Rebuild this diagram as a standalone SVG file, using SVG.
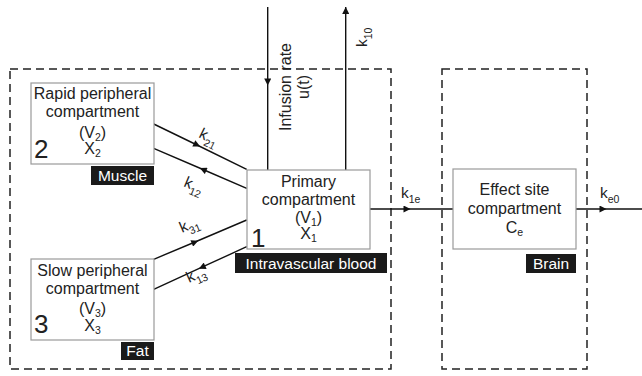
<svg xmlns="http://www.w3.org/2000/svg" width="642" height="376" viewBox="0 0 642 376">
<defs>
<marker id="ah" viewBox="0 0 10 10" refX="10" refY="5" markerWidth="8" markerHeight="7" markerUnits="userSpaceOnUse" orient="auto">
<path d="M0,0 L10,5 L0,10 z" fill="#111"/>
</marker>
<marker id="am" viewBox="0 0 10 10" refX="5" refY="5" markerWidth="8" markerHeight="7" markerUnits="userSpaceOnUse" orient="auto">
<path d="M0,0 L10,5 L0,10 z" fill="#111"/>
</marker>
</defs>
<style>
text{font-family:"Liberation Sans",Arial,sans-serif;fill:#222;}
.t{font-size:16px;text-anchor:middle;}
.big{font-size:26px;}
.lab{font-size:15.5px;text-anchor:middle;fill:#fff;}
.k{font-size:15.5px;}
.sub{font-size:10.5px;}
.box{fill:#fff;stroke:#9a9a9a;stroke-width:1.2;}
.blk{fill:#1a1a1a;}
.dash{fill:none;stroke:#222;stroke-width:1.5;stroke-dasharray:8 5;}
.ln{fill:none;stroke:#111;stroke-width:1.4;}
</style>
<rect width="642" height="376" fill="#fff"/>
<g id="regions">
<rect class="dash" x="10" y="69" width="381" height="300"/>
<rect class="dash" x="442" y="69" width="145" height="300"/>
</g>
<g id="connectors">
<path class="ln" d="M153.7,124 L197,145 L246.7,169.3" marker-mid="url(#am)"/>
<path class="ln" d="M246.7,188.3 L203,169.5 L153.7,148.3" marker-mid="url(#am)"/>
<path class="ln" d="M153.7,259.3 L195,242 L246.7,220" marker-mid="url(#am)"/>
<path class="ln" d="M246.7,246.7 L202,267.2 L153.7,289.3" marker-mid="url(#am)"/>
<path class="ln" d="M267.7,7 L267.7,82 L267.7,170" marker-mid="url(#am)"/>
<path class="ln" d="M345.7,170 L345.7,7" marker-end="url(#ah)"/>
<path class="ln" d="M370,209 L407,209 L453,209" marker-mid="url(#am)"/>
<path class="ln" d="M576,209 L603,209 L642,209" marker-mid="url(#am)"/>
<text class="k" transform="translate(198,137) rotate(26)">k<tspan class="sub" dy="5">21</tspan></text>
<text class="k" transform="translate(183,186) rotate(23)">k<tspan class="sub" dy="5">12</tspan></text>
<text class="k" transform="translate(182,233) rotate(-23)">k<tspan class="sub" dy="5">31</tspan></text>
<text class="k" transform="translate(189,283) rotate(-24.6)">k<tspan class="sub" dy="5">13</tspan></text>
<text class="k" transform="translate(367,47) rotate(-90)">k<tspan class="sub" dy="5">10</tspan></text>
<text class="k" x="401" y="198">k<tspan class="sub" dy="5">1e</tspan></text>
<text class="k" x="600" y="198">k<tspan class="sub" dy="5">e0</tspan></text>
<text class="t" transform="translate(291,87) rotate(-90)">Infusion rate</text>
<text class="t" transform="translate(308.5,87) rotate(-90)">u(t)</text>
</g>
<g id="rapid">
<rect class="box" x="31" y="83" width="123" height="81"/>
<text class="t" x="92.5" y="99">Rapid peripheral</text>
<text class="t" x="92.5" y="117">compartment</text>
<text class="t" x="92.5" y="137.5">(V<tspan class="sub" dy="3">2</tspan><tspan dy="-3">)</tspan></text>
<text class="t" x="92.5" y="154">X<tspan class="sub" dy="3">2</tspan></text>
<text class="big" x="34" y="158">2</text>
<rect class="blk" x="91" y="166" width="63" height="19"/>
<text class="lab" x="122.5" y="181">Muscle</text>
</g>
<g id="slow">
<rect class="box" x="31" y="259" width="123" height="81"/>
<text class="t" x="92.5" y="276">Slow peripheral</text>
<text class="t" x="92.5" y="294">compartment</text>
<text class="t" x="92.5" y="314">(V<tspan class="sub" dy="3">3</tspan><tspan dy="-3">)</tspan></text>
<text class="t" x="92.5" y="331">X<tspan class="sub" dy="3">3</tspan></text>
<text class="big" x="34" y="333">3</text>
<rect class="blk" x="121" y="342" width="33" height="18"/>
<text class="lab" x="137.5" y="356">Fat</text>
</g>
<g id="primary">
<rect class="box" x="247" y="170" width="123" height="79"/>
<text class="t" x="308.5" y="187">Primary</text>
<text class="t" x="308.5" y="204.5">compartment</text>
<text class="t" x="308.5" y="222.5">(V<tspan class="sub" dy="3">1</tspan><tspan dy="-3">)</tspan></text>
<text class="t" x="308.5" y="239">X<tspan class="sub" dy="3">1</tspan></text>
<text class="big" x="251" y="246.5">1</text>
<rect class="blk" x="235" y="253" width="152" height="20"/>
<text class="lab" x="311" y="269">Intravascular blood</text>
</g>
<g id="effect">
<rect class="box" x="453" y="169" width="123" height="80"/>
<text class="t" x="514.5" y="195">Effect site</text>
<text class="t" x="514.5" y="214">compartment</text>
<text class="t" x="514.5" y="233">C<tspan class="sub" dy="3">e</tspan></text>
<rect class="blk" x="526" y="254" width="50" height="19"/>
<text class="lab" x="551" y="269">Brain</text>
</g>
</svg>
